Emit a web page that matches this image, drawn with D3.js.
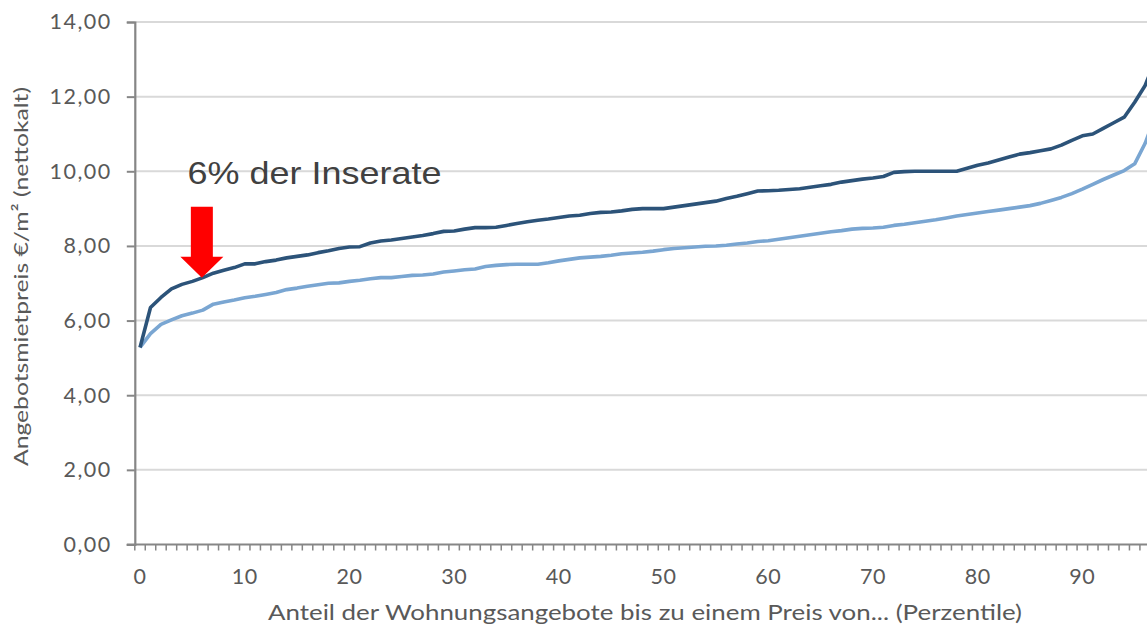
<!DOCTYPE html>
<html><head><meta charset="utf-8">
<script src="https://cdn.jsdelivr.net/npm/d3@7"></script>
<style>
html,body{margin:0;padding:0;background:#fff;overflow:hidden;}
svg{display:block;}
</style></head>
<body>
<svg id="chart" width="1147" height="628"></svg>
<script>
const percentiles = d3.range(0, 98);
const seriesDark = [5.28,6.35,6.62,6.85,6.97,7.05,7.15,7.27,7.35,7.42,
 7.52,7.52,7.58,7.62,7.68,7.72,7.76,7.82,7.87,7.93,
 7.97,7.98,8.08,8.13,8.16,8.20,8.24,8.28,8.33,8.39,
 8.40,8.45,8.49,8.49,8.50,8.55,8.60,8.65,8.69,8.72,
 8.76,8.80,8.82,8.87,8.90,8.91,8.94,8.98,9.00,9.00,
 9.00,9.04,9.08,9.12,9.16,9.20,9.27,9.33,9.40,9.47,
 9.48,9.49,9.51,9.53,9.57,9.61,9.65,9.71,9.75,9.79,
 9.82,9.86,9.97,9.99,10.0,10.0,10.0,10.0,10.0,10.08,
 10.16,10.22,10.30,10.38,10.46,10.50,10.55,10.60,10.70,10.83,
 10.95,11.0,11.15,11.30,11.45,11.85,12.30,13.0];
const seriesLight = [5.28,5.65,5.90,6.02,6.13,6.20,6.28,6.44,6.50,6.55,
 6.61,6.65,6.70,6.75,6.83,6.87,6.92,6.96,7.00,7.01,
 7.05,7.08,7.12,7.15,7.15,7.18,7.21,7.22,7.25,7.30,
 7.33,7.36,7.38,7.45,7.48,7.50,7.51,7.51,7.51,7.55,
 7.60,7.64,7.68,7.70,7.72,7.75,7.79,7.81,7.83,7.86,
 7.90,7.93,7.95,7.97,7.99,8.00,8.02,8.05,8.08,8.12,
 8.14,8.18,8.22,8.26,8.30,8.34,8.38,8.41,8.45,8.47,
 8.48,8.50,8.55,8.58,8.62,8.66,8.70,8.75,8.80,8.84,
 8.88,8.92,8.96,9.00,9.04,9.08,9.14,9.22,9.30,9.40,
 9.52,9.65,9.78,9.90,10.02,10.20,10.75,11.50];
const yTicks = [0,2,4,6,8,10,12,14];
const xTickLabels = [0,10,20,30,40,50,60,70,80,90];
const yTitle = "Angebotsmietpreis €/m² (nettokalt)";
const xTitle = "Anteil der Wohnungsangebote bis zu einem Preis von... (Perzentile)";
const annotation = "6% der Inserate";
const annotationAt = 6;

const svg = d3.select("#chart");
const W = 1147, H = 628;
const plotLeft = 134.8, plotTop = 22, plotBottom = 544.5;
const step = 10.47;
const x = d3.scaleLinear().domain([-0.5, 99.5]).range([plotLeft, plotLeft + 100*step]);
const y = d3.scaleLinear().domain([0, 14]).range([plotBottom, plotTop]);
const tickFont = "Lato, 'Open Sans', sans-serif";

// gridlines
svg.append("g").selectAll("line").data(yTicks.filter(d => d > 0)).join("line")
  .attr("x1", plotLeft).attr("x2", W)
  .attr("y1", d => y(d)).attr("y2", d => y(d))
  .attr("stroke", "#d9d9d9").attr("stroke-width", 2);

// y axis
const yAxis = svg.append("g").attr("transform", `translate(${plotLeft},0)`)
  .call(d3.axisLeft(y).tickValues(yTicks).tickSize(8).tickPadding(15)
    .tickFormat(d => d3.format(".2f")(d).replace(".", ",")));
yAxis.select(".domain").attr("stroke", "#868686").attr("stroke-width", 2.2);
yAxis.selectAll(".tick line").attr("stroke", "#868686").attr("stroke-width", 2);
yAxis.selectAll(".tick text").attr("fill", "#595959").attr("font-family", tickFont)
  .attr("font-size", 21.5).attr("letter-spacing", 1.5);

// x axis (minor category ticks)
const minor = d3.range(-0.5, 100, 1);
const xAxisG = svg.append("g").attr("transform", `translate(0,${plotBottom})`);
xAxisG.append("line").attr("x1", plotLeft - 8).attr("x2", W).attr("y1", 0).attr("y2", 0)
  .attr("stroke", "#868686").attr("stroke-width", 2.2);
xAxisG.selectAll("line.mt").data(minor).join("line").attr("class", "mt")
  .attr("x1", d => x(d)).attr("x2", d => x(d)).attr("y1", 0).attr("y2", 6)
  .attr("stroke", "#868686").attr("stroke-width", 1.5);
xAxisG.selectAll("text").data(xTickLabels).join("text")
  .attr("x", d => x(d)).attr("y", 39)
  .attr("text-anchor", "middle").attr("fill", "#595959")
  .attr("font-family", tickFont).attr("font-size", 21.5)
  .attr("letter-spacing", 0.5).text(d => d);

// lines
const line = d3.line().x((d, i) => x(percentiles[i])).y(d => y(d));
svg.append("path").datum(seriesLight).attr("d", line)
  .attr("fill", "none").attr("stroke", "#7aa6d2").attr("stroke-width", 3.6).attr("stroke-linejoin", "round");
svg.append("path").datum(seriesDark).attr("d", line)
  .attr("fill", "none").attr("stroke", "#2c5379").attr("stroke-width", 3.6).attr("stroke-linejoin", "round");

// annotation arrow
const tipX = x(annotationAt) - 1, tipY = y(seriesDark[annotationAt]);
const arrow = [[tipX - 11, tipY - 71], [tipX + 11, tipY - 71], [tipX + 11, tipY - 21], [tipX + 21.5, tipY - 21],
  [tipX, tipY], [tipX - 21.5, tipY - 21], [tipX - 11, tipY - 21]];
svg.append("path").attr("d", "M" + arrow.map(p => p.join(",")).join("L") + "Z").attr("fill", "#ff0000");
svg.append("text").attr("x", 187.5).attr("y", 183.5)
  .attr("font-family", "'Liberation Sans', Arial, sans-serif").attr("font-size", 32)
  .attr("textLength", 254).attr("lengthAdjust", "spacingAndGlyphs")
  .attr("fill", "#404040").text(annotation);

// titles
svg.append("text").attr("transform", `translate(28,${(87+466)/2}) rotate(-90)`)
  .attr("text-anchor", "middle").attr("fill", "#595959")
  .attr("font-family", tickFont).attr("font-size", 20)
  .attr("textLength", 379).attr("lengthAdjust", "spacingAndGlyphs").text(yTitle);
svg.append("text").attr("x", 645).attr("y", 620)
  .attr("text-anchor", "middle").attr("fill", "#595959")
  .attr("font-family", tickFont).attr("font-size", 21.5)
  .attr("textLength", 754).attr("lengthAdjust", "spacingAndGlyphs").text(xTitle);
</script>
</body></html>
